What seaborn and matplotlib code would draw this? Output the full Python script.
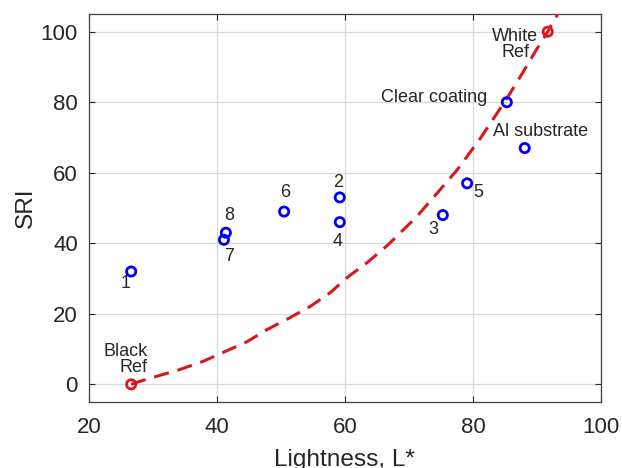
import matplotlib
matplotlib.use("Agg")
import matplotlib.pyplot as plt
import seaborn as sns
import pandas as pd

# Sample points
sample_labels = ["1", "2", "3", "4", "5", "6", "7", "8", "Clear coating", "Al substrate"]
sample_L = [26.6, 59.2, 75.3, 59.2, 79.1, 50.5, 41.1, 41.4, 85.3, 88.1]
sample_SRI = [32, 53, 48, 46, 57, 49, 41, 43, 80, 67]

# Reference points
ref_labels = ["Black\nRef", "White\nRef"]
ref_L = [26.6, 91.7]
ref_SRI = [0, 100]

# Fitted curve
curve_L = [26.6, 27.5, 30.6, 34.2, 37.8, 40.9, 44.7, 47.8, 51.4, 54.5, 57.7, 60.5,
           63.6, 66.7, 71.2, 74.4, 77.5, 81.1, 83.1, 85.8, 87.7, 89.7, 91.7, 93.1, 93.6]
curve_SRI = [0, 0.6, 2.3, 4.2, 6.5, 9.0, 12.1, 15.5, 18.9, 22.0, 26.0, 30.5,
             34.7, 39.5, 47.5, 54.2, 60.7, 69.6, 75.0, 82.5, 88.1, 94.2, 100, 104.5, 106.5]

sns.set_theme(style="ticks")
plt.rcParams["font.family"] = ["Liberation Sans", "DejaVu Sans"]

txt = "#262626"
red = "#d7191f"
blue = "#0000ff"

fig = plt.figure(figsize=(6.22, 4.68), dpi=100)
ax = fig.add_axes([0.143, 0.141, 0.823, 0.829])

curve_df = pd.DataFrame({"L": curve_L, "SRI": curve_SRI})
sns.lineplot(data=curve_df, x="L", y="SRI", sort=False, estimator=None, ax=ax,
             color=red, linewidth=2.2, linestyle=(0, (5, 2.9)), zorder=3)

samp_df = pd.DataFrame({"L": sample_L, "SRI": sample_SRI})
sns.scatterplot(data=samp_df, x="L", y="SRI", ax=ax, marker="o", s=44,
                facecolors="none", edgecolor=blue, linewidth=2.0, zorder=4)
ref_df = pd.DataFrame({"L": ref_L, "SRI": ref_SRI})
sns.scatterplot(data=ref_df, x="L", y="SRI", ax=ax, marker="o", s=44,
                facecolors="none", edgecolor=red, linewidth=2.0, zorder=4)

fs = 13
ann = {
    "1": (25.8, 28.5, "center", "center"),
    "2": (58.9, 57.1, "center", "center"),
    "3": (73.8, 43.8, "center", "center"),
    "4": (58.9, 40.4, "center", "center"),
    "5": (80.8, 54.5, "center", "center"),
    "6": (50.6, 54.3, "center", "center"),
    "7": (41.9, 36.2, "center", "center"),
    "8": (41.9, 48.0, "center", "center"),
    "Clear coating": (82.2, 81.4, "right", "center"),
    "Al substrate": (83.1, 71.8, "left", "center"),
}
for lab in sample_labels:
    x, y, ha, va = ann[lab]
    ax.text(x, y, lab, ha=ha, va=va, fontsize=fs, color=txt, zorder=5)

ax.text(29.2, 7.1, ref_labels[0], ha="right", va="center", multialignment="right",
        fontsize=fs, color=txt, linespacing=0.95, zorder=5)
ax.text(86.6, 96.3, ref_labels[1], ha="center", va="center", multialignment="center",
        fontsize=fs, color=txt, linespacing=0.95, zorder=5)

ax.set_xlim(20, 100)
ax.set_ylim(-5, 105)
ax.set_xticks([20, 40, 60, 80, 100])
ax.set_yticks([0, 20, 40, 60, 80, 100])
ax.grid(True, color="#d9d9d9", linewidth=0.9)
ax.set_axisbelow(True)
ax.tick_params(direction="in", length=4, width=0.8, top=True, right=True,
               labelsize=16, colors=txt)
ax.tick_params(axis="x", pad=11)
ax.tick_params(axis="y", pad=8)
for s in ax.spines.values():
    s.set_visible(True)
    s.set_color("#404040")
    s.set_linewidth(0.9)
ax.set_xlabel("Lightness, L*", fontsize=17.6, color=txt, labelpad=8)
ax.set_ylabel("SRI", fontsize=17.6, color=txt, labelpad=3)

fig.savefig("out.png", dpi=100)
